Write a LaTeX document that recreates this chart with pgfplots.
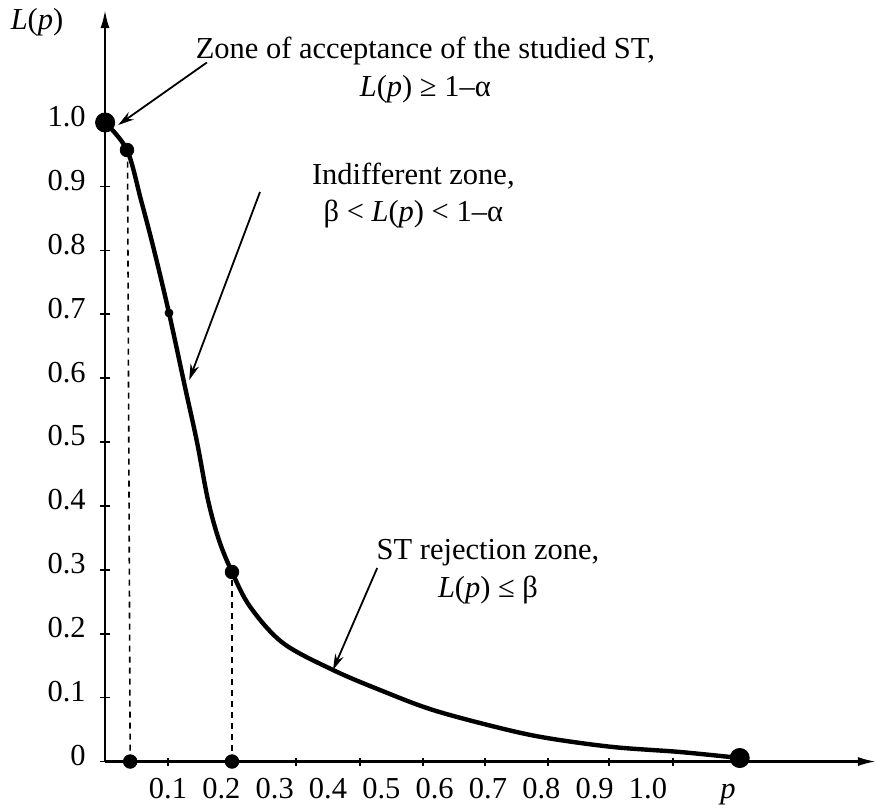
\documentclass[border=0pt]{standalone}
\usepackage{pgfplots}
\pgfplotsset{compat=1.18}
\usepackage{fontspec}
\setmainfont{Liberation Serif}
\usetikzlibrary{arrows.meta}

\begin{document}
\begin{tikzpicture}[font=\fontsize{15.3}{19}\selectfont]
\begin{axis}[
    scale only axis,
    width=385.5bp, height=375.75bp,
    xmin=-0.0182, xmax=1.4275,
    ymin=0, ymax=1.176,
    axis lines=left,
    axis line style={line width=1.1bp, -{Latex[length=9bp,width=4.5bp]}},
    clip=false,
    /pgf/number format/assume math mode=true,
    tick align=center,
    tick style={black, line width=0.8bp},
    xtick={0.1,0.22,0.34,0.46,0.578,0.694,0.813,0.927,1.047},
    xticklabels={},
    xtick style={/pgfplots/major tick length=4bp},
    extra x ticks={0.1,0.2,0.3,0.4,0.5,0.6,0.7,0.8,0.9,1.0},
    extra x tick labels={0.1,0.2,0.3,0.4,0.5,0.6,0.7,0.8,0.9,1.0},
    extra x tick style={major tick style={draw=none}, major tick length=0pt},
    xticklabel style={yshift=-5bp},
    ytick={0,0.1,0.2,0.3,0.4,0.5,0.6,0.7,0.8,0.9,1.0},
    yticklabels={0,0.1,0.2,0.3,0.4,0.5,0.6,0.7,0.8,0.9,1.0},
    ytick style={/pgfplots/major tick length=5bp},
    yticklabel style={xshift=-4bp, yshift=3bp},
]
% operating characteristic curve
\addplot[line width=2.2bp, smooth, tension=0.55] coordinates {
    (-0.018,1.0) (0.023,0.957) (0.0493,0.8787) (0.0737,0.8005) (0.1018,0.7019)
    (0.1318,0.5861) (0.1543,0.5000) (0.1749,0.4092) (0.1955,0.3466) (0.2199,0.2966)
    (0.254,0.242) (0.3156,0.1854) (0.4094,0.1432) (0.4975,0.1119) (0.5968,0.0806)
    (0.7225,0.0524) (0.8106,0.0368) (0.9344,0.0227) (1.060,0.0149) (1.172,0.0055)
};

% dashed drop lines
\addplot[line width=0.8bp, dash pattern=on 3bp off 2.5bp] coordinates {(0.029,0) (0.024,0.957)};
\addplot[line width=0.8bp, dash pattern=on 3bp off 2.5bp] coordinates {(0.2199,0) (0.2199,0.2966)};

% points
\addplot[only marks, mark=*, mark size=4.8bp] coordinates {(-0.018,1.0) (1.172,0.0055)};
\addplot[only marks, mark=*, mark size=3.4bp] coordinates {(0.023,0.957) (0.2199,0.2966) (0.029,0) (0.2199,0)};
\addplot[only marks, mark=*, mark size=2bp] coordinates {(0.1018,0.7019)};

% annotations
\draw[line width=0.9bp, -{Stealth[length=8bp,width=4.5bp]}] (axis cs:0.173,1.094) -- (axis cs:0.0064,0.996);
\draw[line width=0.9bp, -{Stealth[length=8bp,width=4.5bp]}] (axis cs:0.2724,0.8912) -- (axis cs:0.1397,0.5970);
\draw[line width=0.9bp, -{Stealth[length=8bp,width=4.5bp]}] (axis cs:0.4922,0.3028) -- (axis cs:0.4093,0.1432);

\node[align=center] at (axis cs:0.5825,1.0822) {Zone of acceptance of the studied ST,\\\textit{L}(\textit{p}) ≥ 1–α};
\node[align=center] at (axis cs:0.560,0.8858) {Indifferent zone,\\β < \textit{L}(\textit{p}) < 1–α};
\node[align=center] at (axis cs:0.700,0.2966) {ST rejection zone,\\\textit{L}(\textit{p}) ≤ β};

\node at (axis cs:-0.1457,1.1573) {\textit{L}(\textit{p})};
\node at (axis cs:1.150,-0.052) {\textit{p}};

\coordinate (bbsw) at (axis cs:-0.2151,-0.0759);
\coordinate (bbne) at (axis cs:1.4369,1.1917);
\end{axis}
\pgfresetboundingbox
\path[use as bounding box] (bbsw) rectangle (bbne);
\end{tikzpicture}
\end{document}
